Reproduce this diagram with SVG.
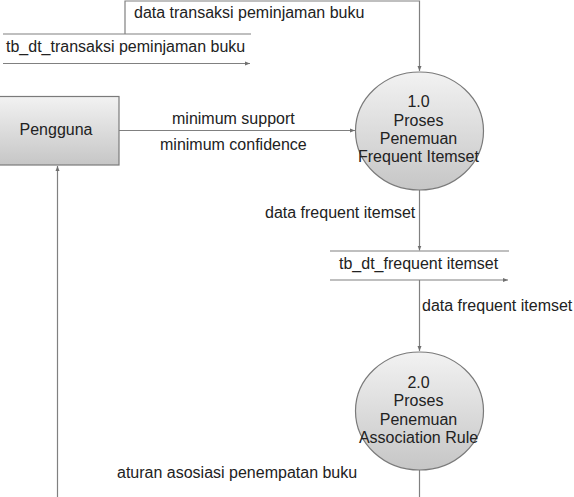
<svg xmlns="http://www.w3.org/2000/svg" width="574" height="497" viewBox="0 0 574 497">
  <style>
    text { font-family: "Liberation Sans", Arial, sans-serif; font-size: 16px; fill: #222; }
    .c { text-anchor: middle; }
    .ln { fill: none; stroke: #808080; stroke-width: 1.2; }
    .shape { stroke: #7a7a7a; stroke-width: 1.2; }
  </style>
  <defs>
    <linearGradient id="gfill" x1="0" y1="0" x2="0" y2="1">
      <stop offset="0" stop-color="#f2f2f2"/>
      <stop offset="1" stop-color="#c6c6c6"/>
    </linearGradient>
    <marker id="arr" viewBox="0 0 10 10" refX="10" refY="5" markerWidth="5" markerHeight="5" markerUnits="userSpaceOnUse" orient="auto">
      <path d="M0,1 L10,5 L0,9 Z" fill="#707070"/>
    </marker>
  </defs>

  <g id="connectors">
    <path class="ln" d="M125,34 V1 H419.5 V71" marker-end="url(#arr)"/>
    <line class="ln" x1="119" y1="130.5" x2="355" y2="130.5" marker-end="url(#arr)"/>
    <line class="ln" x1="419.5" y1="190" x2="419.5" y2="250.5" marker-end="url(#arr)"/>
    <line class="ln" x1="419.5" y1="280" x2="419.5" y2="351" marker-end="url(#arr)"/>
    <line class="ln" x1="419.5" y1="470" x2="419.5" y2="497"/>
    <line class="ln" x1="57.5" y1="497" x2="57.5" y2="166" marker-end="url(#arr)"/>
    <text x="134" y="18">data transaksi peminjaman buku</text>
    <text x="172" y="124">minimum support</text>
    <text x="160" y="149.5">minimum confidence</text>
    <text x="265" y="218">data frequent itemset</text>
    <text x="422" y="311">data frequent itemset</text>
    <text x="117" y="478">aturan asosiasi penempatan buku</text>
  </g>

  <g id="store-transaksi">
    <line class="ln" x1="3" y1="34" x2="251" y2="34"/>
    <line class="ln" x1="3" y1="63.5" x2="250" y2="63.5" marker-end="url(#arr)"/>
    <text x="6" y="52">tb_dt_transaksi peminjaman buku</text>
  </g>

  <g id="pengguna">
    <rect class="shape" x="-7" y="96.5" width="126" height="68.5" fill="url(#gfill)"/>
    <text class="c" x="56" y="135">Pengguna</text>
  </g>

  <g id="proses-1">
    <ellipse class="shape" cx="419.5" cy="131" rx="64" ry="59" fill="url(#gfill)"/>
    <text class="c" x="418.5" y="107">1.0</text>
    <text class="c" x="418.5" y="125.5">Proses</text>
    <text class="c" x="418.5" y="144">Penemuan</text>
    <text class="c" x="418.5" y="162">Frequent Itemset</text>
  </g>

  <g id="store-frequent">
    <line class="ln" x1="330" y1="251" x2="509" y2="251"/>
    <line class="ln" x1="330" y1="280" x2="508" y2="280" marker-end="url(#arr)"/>
    <text x="339" y="269">tb_dt_frequent itemset</text>
  </g>

  <g id="proses-2">
    <ellipse class="shape" cx="419.5" cy="411" rx="64" ry="59" fill="url(#gfill)"/>
    <text class="c" x="418.5" y="388">2.0</text>
    <text class="c" x="418.5" y="406">Proses</text>
    <text class="c" x="418.5" y="424.5">Penemuan</text>
    <text class="c" x="418.5" y="443">Association Rule</text>
  </g>
</svg>
